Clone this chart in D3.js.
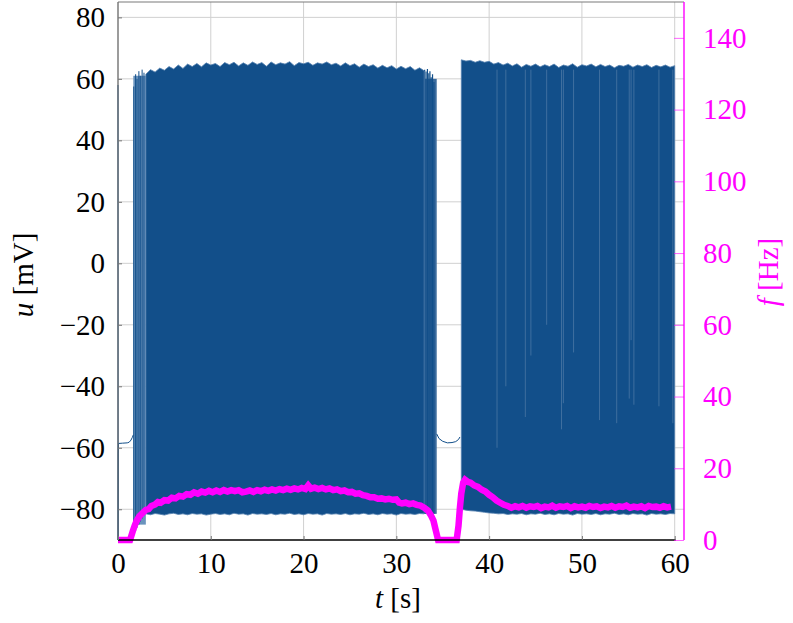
<!DOCTYPE html>
<html>
<head>
<meta charset="utf-8">
<script src="https://cdn.jsdelivr.net/npm/d3@7"></script>
<style>
  body { margin: 0; background: #fff; }
  text { font-family: "Liberation Serif", "DejaVu Serif", serif; }
</style>
</head>
<body>
<svg id="chart"></svg>
<script>
const W = 793, H = 623;

// axis ticks
const tTicks = [0, 10, 20, 30, 40, 50, 60];
const uTicks = [-80, -60, -40, -20, 0, 20, 40, 60, 80];
const fTicks = [0, 20, 40, 60, 80, 100, 120, 140];

// resting membrane potential before first burst (incl. initial spike)
const restAT = [0, 0.01, 0.03, 0.06, 0.5, 1.0, 1.2, 1.4, 1.55, 1.65];
const restAU = [58, -90, -62, -58.6, -58.5, -58.4, -58.2, -57.5, -56.6, -55.8];
// resting potential in the gap between the bursts
const restBT = [34.35, 34.6, 35.0, 35.5, 36.0, 36.4, 36.7, 36.85];
const restBU = [-55.5, -57, -57.9, -58.4, -58.3, -58, -57.3, -56.5];

// burst 1, dense spiking: spike peaks (every 0.5 s from 3.0 s) and troughs
const b1Start = 3.0, b1Step = 0.5;
const b1Hi = [61.5, 63, 62.2, 63.5, 62.8, 64, 63.2, 64.5, 63.4, 64.8, 64, 65, 63.9, 65.2,
  64.5, 65, 64.0, 65.3, 64.6, 65.4, 64.2, 65.2, 64.4, 65.5, 64.7, 65.3, 64.1, 65.5,
  64.6, 65.2, 64.8, 65.6, 64.3, 65.3, 64.9, 65.4, 64.4, 65.2, 64.8, 65.5, 64.6, 65.1,
  64.2, 65.2, 64.3, 64.9, 63.8, 64.8, 64.0, 64.6, 63.5, 64.4, 63.6, 64.3, 63.2, 64.1,
  63.3, 64.0, 62.8, 63.6, 62.6];
const b1Lo = [-81.5, -81.8, -81.4, -81.6, -81.9, -81.5, -81.3, -81.7, -81.5, -81.8,
  -81.4, -81.6, -81.5, -81.9, -81.6, -81.4, -81.7, -81.5, -81.8, -81.3, -81.6, -81.5,
  -81.9, -81.4, -81.6, -81.5, -81.7, -81.4, -81.8, -81.5, -81.6, -81.3, -81.7, -81.5,
  -81.8, -81.4, -81.6, -81.5, -81.9, -81.4, -81.6, -81.5, -81.7, -81.4, -81.8, -81.5,
  -81.6, -81.3, -81.7, -81.5, -81.8, -81.4, -81.6, -81.5, -81.9, -81.4, -81.6, -81.5,
  -81.7, -81.4, -81.5];

// burst 2: spike peaks and troughs every 0.5 s from 37.0 s
const b2Start = 37.0, b2Step = 0.5;
const b2Hi = [66.2, 65.8, 66.0, 65.4, 65.9, 65.4, 65.7, 64.8, 65.3, 64.5, 65.1, 64.2,
  64.9, 63.8, 64.7, 64.1, 64.8, 63.9, 64.6, 64.0, 64.8, 63.7, 64.5, 64.1, 64.9, 63.8,
  64.6, 64.2, 64.8, 63.9, 64.7, 64.0, 64.5, 63.6, 64.4, 64.1, 64.7, 63.8, 64.5, 64.0,
  64.6, 63.7, 64.4, 63.9, 64.5, 63.8, 64.3];
const b2Lo = [-80.0, -80.3, -80.5, -80.6, -80.8, -81.0, -81.2, -81.3, -81.5, -81.4,
  -81.7, -81.5, -81.6, -81.4, -81.8, -81.5, -81.6, -81.3, -81.7, -81.5, -81.8, -81.4,
  -81.6, -81.5, -81.9, -81.4, -81.6, -81.5, -81.7, -81.4, -81.8, -81.5, -81.6, -81.3,
  -81.7, -81.5, -81.8, -81.4, -81.6, -81.5, -81.9, -81.4, -81.6, -81.5, -81.7, -81.4,
  -81.5];

// sparse spiking at burst edges (drawn lighter)
const sparseT0 = [1.65, 33.0];
const sparseT1 = [3.0, 34.35];
const sparseHi = [61, 60];
const sparseLo = [-85, -81.5];
// single early spikes in the sparse start
const earlyT = [1.7, 1.9, 2.05, 2.25, 2.4, 2.6, 2.8];
const earlyHi = [57.5, 61.5, 60, 62.5, 61, 63, 62];
const earlyLo = [-88, -87, -86, -85, -84, -83, -82];
// spikes inside the sparse end
const lateT = [33.05, 33.2, 33.35, 33.5, 33.62, 33.75, 33.9, 34.05];
const lateHi = [63, 62.4, 63.2, 61.8, 62.5, 60.5, 61.5, 59];

// longer interspike intervals visible as pale stripes in burst 2
const pauseT = [40.85, 41.8, 43.9, 44.5, 46.2, 47.8, 48.0, 49.1, 51.9, 53.75, 55.1, 55.3, 55.6, 58.3, 59.8];
const pauseLo = [-60, -40, -50, -30, -20, -54, -45.5, -29, -51, -52, -44, -25, -46, -46.5, -52];

// firing rate f [Hz]
const fT = [0, 1.3, 1.6, 1.8, 2.0, 2.3, 2.6, 3.0, 3.3, 3.6, 4.0, 4.3, 4.6, 5.0, 5.4, 5.8,
  6.2, 6.6, 7.0, 7.4, 7.8, 8.2, 8.6, 9.0, 9.4, 9.8, 10.2, 10.6, 11.0, 11.4, 11.8, 12.2,
  12.6, 13.0, 13.4, 13.8, 14.2, 14.6, 15.0, 15.4, 15.8, 16.2, 16.6, 17.0, 17.4, 17.8,
  18.2, 18.6, 19.0, 19.4, 19.8, 20.2, 20.5, 20.8, 21.2, 21.6, 22.0, 22.4, 22.8, 23.2,
  23.6, 24.0, 24.4, 24.8, 25.2, 25.6, 26.0, 26.4, 26.8, 27.2, 27.6, 28.0, 28.4, 28.8,
  29.2, 29.6, 30.0, 30.3, 30.6, 31.0, 31.4, 31.8, 32.2, 32.6, 33.0, 33.4, 33.7, 34.0,
  34.2, 34.5, 36.5, 36.7, 36.85, 37.0, 37.2, 37.4, 37.7, 38.0, 38.4, 38.8, 39.2, 39.6,
  40.0, 40.4, 40.8, 41.2, 41.6, 42.0, 42.4, 42.8, 43.2, 43.6, 44.0, 44.4, 44.8, 45.2,
  45.6, 46.0, 46.4, 46.8, 47.2, 47.6, 48.0, 48.4, 48.8, 49.2, 49.6, 50.0, 50.4, 50.8,
  51.2, 51.6, 52.0, 52.4, 52.8, 53.2, 53.6, 54.0, 54.4, 54.8, 55.2, 55.6, 56.0, 56.4,
  56.8, 57.2, 57.6, 58.0, 58.4, 58.8, 59.2, 59.6, 60.0];
const fV = [0, 0, 2.5, 4, 5.3, 6.6, 7.4, 8.4, 8.6, 9.5, 9.9, 10.6, 10.4, 11.1, 11.0, 11.8,
  11.6, 12.3, 12.1, 12.8, 12.6, 13.3, 12.9, 13.5, 13.2, 13.7, 13.3, 13.8, 13.4, 13.9,
  13.5, 13.9, 13.6, 13.9, 13.3, 13.5, 13.8, 13.4, 13.9, 13.6, 14.0, 13.7, 14.1, 13.8,
  14.2, 13.9, 14.3, 14.0, 14.4, 14.1, 14.5, 14.2, 15.2, 14.3, 14.6, 14.2, 14.5, 14.1,
  14.4, 13.9, 14.1, 13.6, 13.8, 13.3, 13.4, 12.9, 13.0, 12.5, 12.3, 11.9, 11.9, 11.5,
  11.6, 11.3, 11.5, 11.2, 11.3, 10.4, 10.2, 10.4, 10.0, 10.2, 9.8, 9.6, 9.0, 8.2, 7.0,
  5.4, 3.2, 0, 0, 4, 9, 13, 16, 16.8, 16.2, 16.0, 15.2, 14.8, 14.0, 13.5, 12.6, 11.9,
  11.0, 10.4, 9.8, 9.5, 9.0, 9.4, 9.1, 9.5, 9.0, 9.4, 9.2, 9.5, 8.9, 9.3, 9.1, 9.6,
  9.0, 9.4, 9.2, 9.5, 8.9, 9.4, 9.1, 9.3, 9.0, 9.5, 9.2, 9.4, 8.9, 9.3, 9.1, 9.5, 9.0,
  9.4, 9.2, 9.6, 9.0, 9.3, 9.1, 9.4, 8.9, 9.5, 9.2, 9.3, 9.0, 9.4, 9.1, 9.3];

const plotLeft = 118, plotRight = 674.7, plotTop = 2, plotBottom = 540, rightAxisX = 684;
const blue = '#124f8a', pale = '#6a93bd', mid = '#3d6c9d', magenta = '#ff00ff';

const svg = d3.select('#chart').attr('width', W).attr('height', H);

const x = d3.scaleLinear().domain([0, 60]).range([plotLeft, plotRight]);
const yU = d3.scaleLinear().domain([-90, 85]).range([plotBottom, plotTop]);
const yF = d3.scaleLinear().domain([0, 150]).range([plotBottom, plotTop]);

// grid
svg.append('g').selectAll('line').data(tTicks).enter().append('line')
    .attr('x1', d => x(d)).attr('x2', d => x(d))
    .attr('y1', plotTop).attr('y2', plotBottom)
    .attr('stroke', '#d0d0d0').attr('stroke-width', 1);
svg.append('g').selectAll('line').data(uTicks).enter().append('line')
    .attr('x1', plotLeft).attr('x2', rightAxisX)
    .attr('y1', d => yU(d)).attr('y2', d => yU(d))
    .attr('stroke', '#d0d0d0').attr('stroke-width', 1);

// membrane potential u
const b1T = b1Hi.map((d, i) => b1Start + i * b1Step);
const b2T = b2Hi.map((d, i) => b2Start + i * b2Step);

const area = d3.area().x(d => x(d.t)).y0(d => yU(d.lo)).y1(d => yU(d.hi));

svg.selectAll('.sparse').data(sparseT0).enter().append('rect')
    .attr('class', 'sparse')
    .attr('x', d => x(d))
    .attr('width', (d, i) => x(sparseT1[i]) - x(d))
    .attr('y', (d, i) => yU(sparseHi[i]))
    .attr('height', (d, i) => yU(sparseLo[i]) - yU(sparseHi[i]))
    .attr('fill', (d, i) => i === 0 ? pale : mid);

svg.append('g').selectAll('line').data(earlyT).enter().append('line')
    .attr('x1', d => x(d)).attr('x2', d => x(d))
    .attr('y1', (d, i) => yU(earlyHi[i])).attr('y2', (d, i) => yU(earlyLo[i]))
    .attr('stroke', blue).attr('stroke-width', 1);

svg.append('g').selectAll('line').data(lateT).enter().append('line')
    .attr('x1', d => x(d)).attr('x2', d => x(d))
    .attr('y1', (d, i) => yU(lateHi[i])).attr('y2', yU(-81.5))
    .attr('stroke', blue).attr('stroke-width', 1.2);

svg.append('path')
    .datum(b1T.map((t, i) => ({t: t, hi: b1Hi[i], lo: b1Lo[i]})))
    .attr('fill', blue).attr('stroke', '#5582b0').attr('stroke-width', 0.8)
    .attr('d', area);
svg.append('path')
    .datum(b2T.map((t, i) => ({t: t, hi: b2Hi[i], lo: b2Lo[i]})))
    .attr('fill', blue).attr('stroke', '#5582b0').attr('stroke-width', 0.8)
    .attr('d', area);

svg.append('g').selectAll('line').data(pauseT).enter().append('line')
    .attr('x1', d => x(d)).attr('x2', d => x(d))
    .attr('y1', yU(63)).attr('y2', (d, i) => yU(pauseLo[i]))
    .attr('stroke', '#3f6f9f').attr('stroke-width', 1);

const uLine = d3.line().x(d => x(d[0])).y(d => yU(d[1]));
svg.append('path').datum(restAT.map((t, i) => [t, restAU[i]]))
    .attr('fill', 'none').attr('stroke', blue).attr('stroke-width', 1).attr('d', uLine);
svg.append('path').datum(restBT.map((t, i) => [t, restBU[i]]))
    .attr('fill', 'none').attr('stroke', blue).attr('stroke-width', 1).attr('d', uLine);

// firing rate f
const fLine = d3.line().x(d => x(d[0])).y(d => yF(d[1]));
svg.append('path').datum(fT.map((t, i) => [t, fV[i]]))
    .attr('fill', 'none').attr('stroke', magenta).attr('stroke-width', 6.5)
    .attr('stroke-linejoin', 'miter').attr('d', fLine);

// frame
svg.append('line').attr('x1', plotLeft).attr('x2', rightAxisX).attr('y1', plotTop).attr('y2', plotTop)
    .attr('stroke', '#7a7a7a').attr('stroke-width', 1.2);
svg.append('line').attr('x1', plotLeft).attr('x2', plotLeft).attr('y1', plotTop).attr('y2', plotBottom)
    .attr('stroke', '#6a6a6a').attr('stroke-width', 1.2);
svg.append('line').attr('x1', plotLeft).attr('x2', plotRight + 1).attr('y1', plotBottom).attr('y2', plotBottom)
    .attr('stroke', '#000').attr('stroke-width', 1.3);
svg.append('line').attr('x1', rightAxisX).attr('x2', rightAxisX).attr('y1', plotTop).attr('y2', plotBottom)
    .attr('stroke', magenta).attr('stroke-width', 1.4);

// left axis
const leftAxis = svg.append('g').attr('transform', `translate(${plotLeft},0)`)
    .call(d3.axisLeft(yU).tickValues(uTicks).tickSize(-4).tickPadding(13));
leftAxis.select('.domain').remove();
leftAxis.selectAll('line').attr('stroke', '#777');
leftAxis.selectAll('text').attr('font-size', 29).attr('fill', '#000')
    .attr('font-family', '"Liberation Serif", serif');

// bottom axis
const bottomAxis = svg.append('g').attr('transform', `translate(0,${plotBottom})`)
    .call(d3.axisBottom(x).tickValues(tTicks).tickSize(-4).tickPadding(12));
bottomAxis.select('.domain').remove();
bottomAxis.selectAll('line').attr('stroke', '#777');
bottomAxis.selectAll('text').attr('font-size', 29).attr('fill', '#000')
    .attr('font-family', '"Liberation Serif", serif');

// right axis
const rightAx = svg.append('g').attr('transform', `translate(${rightAxisX},0)`)
    .call(d3.axisRight(yF).tickValues(fTicks).tickSize(-10).tickPadding(19));
rightAx.select('.domain').remove();
rightAx.selectAll('line').attr('stroke', magenta).attr('stroke-opacity', 0.6);
rightAx.selectAll('text').attr('font-size', 29).attr('fill', magenta)
    .attr('font-family', '"Liberation Serif", serif');

// axis labels
const tLab = svg.append('text').attr('x', 398).attr('y', 608)
    .attr('text-anchor', 'middle').attr('font-size', 29);
tLab.append('tspan').attr('font-style', 'italic').text('t');
tLab.append('tspan').text(' [s]');

const uLab = svg.append('text').attr('transform', 'translate(33,275) rotate(-90)')
    .attr('text-anchor', 'middle').attr('font-size', 29);
uLab.append('tspan').attr('font-style', 'italic').text('u');
uLab.append('tspan').text(' [mV]');

const fLab = svg.append('text').attr('transform', 'translate(778,272) rotate(-90)')
    .attr('text-anchor', 'middle').attr('font-size', 29).attr('fill', magenta);
fLab.append('tspan').attr('font-style', 'italic').text('f');
fLab.append('tspan').text(' [Hz]');
</script>
</body>
</html>
